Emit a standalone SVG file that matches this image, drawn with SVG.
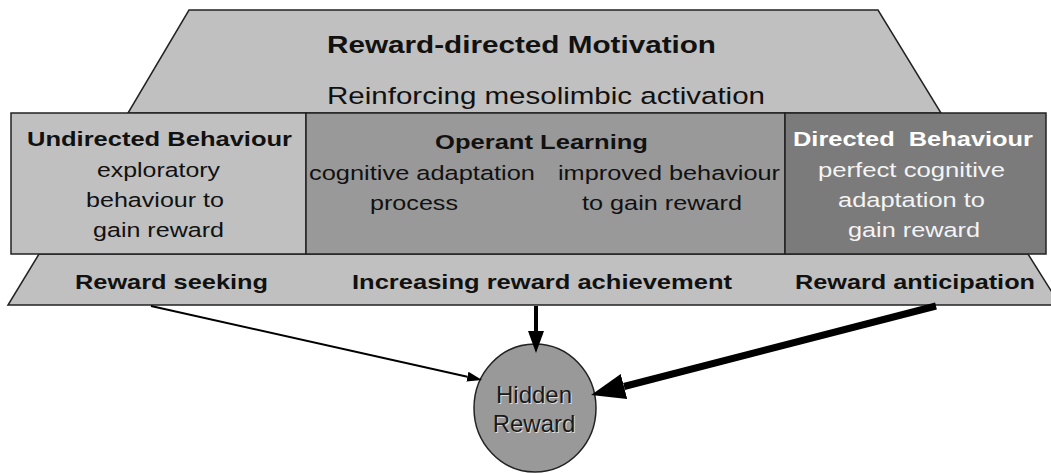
<svg xmlns="http://www.w3.org/2000/svg" width="1051" height="473" viewBox="0 0 1051 473">
  <style>
    .band { fill: #c0c0c0; stroke: #222; stroke-width: 1.5; stroke-linejoin: miter; }
    .box { stroke: #222; stroke-width: 1.5; }
    .t { font-family: "Liberation Sans", Arial, sans-serif; fill: #111; white-space: pre; }
    .b { font-weight: bold; }
    .w { fill: #f4f4f4; }
    .conn { stroke: #000; fill: none; }
  </style>
  <defs>
    <marker id="headS" markerUnits="userSpaceOnUse" markerWidth="16" markerHeight="12" refX="0" refY="6" orient="auto" viewBox="0 0 16 12">
      <path d="M0,1 L15,6 L0,11 z" fill="#000"/>
    </marker>
    <marker id="headM" markerUnits="userSpaceOnUse" markerWidth="23" markerHeight="18" refX="0" refY="9" orient="auto" viewBox="0 0 23 18">
      <path d="M0,1 L22,9 L0,17 z" fill="#000"/>
    </marker>
    <marker id="headL" markerUnits="userSpaceOnUse" markerWidth="35" markerHeight="28" refX="0" refY="14" orient="auto" viewBox="0 0 35 28">
      <path d="M0,1 L34,14 L0,27 z" fill="#000"/>
    </marker>
  </defs>

  <!-- upper band: motivation -->
  <g id="motivation">
    <polygon class="band" points="189,10 878,10 941,113 128,113"/>
    <text class="t b" x="327" y="53" font-size="23.5" textLength="389" lengthAdjust="spacingAndGlyphs">Reward-directed Motivation</text>
    <text class="t" x="327" y="104" font-size="24.5" textLength="438" lengthAdjust="spacingAndGlyphs">Reinforcing mesolimbic activation</text>
  </g>

  <!-- lower band: reward stages -->
  <g id="reward-stages">
    <polygon class="band" points="39,254 1028,254 1060,305 8,305"/>
    <text class="t b" x="75" y="289" font-size="21" textLength="193" lengthAdjust="spacingAndGlyphs">Reward seeking</text>
    <text class="t b" x="352" y="289" font-size="21" textLength="380" lengthAdjust="spacingAndGlyphs">Increasing reward achievement</text>
    <text class="t b" x="795" y="289" font-size="21" textLength="240" lengthAdjust="spacingAndGlyphs">Reward anticipation</text>
  </g>

  <!-- behaviour phases -->
  <g id="undirected-behaviour">
    <rect class="box" x="11" y="113" width="295" height="141" fill="#c0c0c0"/>
    <text class="t b" x="27" y="146" font-size="20" textLength="265" lengthAdjust="spacingAndGlyphs">Undirected Behaviour</text>
    <text class="t" x="97" y="177" font-size="20.5" textLength="123" lengthAdjust="spacingAndGlyphs">exploratory</text>
    <text class="t" x="86" y="207" font-size="20.5" textLength="138" lengthAdjust="spacingAndGlyphs">behaviour to</text>
    <text class="t" x="93" y="237" font-size="20.5" textLength="131" lengthAdjust="spacingAndGlyphs">gain reward</text>
  </g>

  <g id="operant-learning">
    <rect class="box" x="306" y="113" width="479" height="141" fill="#999999"/>
    <text class="t b" x="435" y="149" font-size="20" textLength="213" lengthAdjust="spacingAndGlyphs">Operant Learning</text>
    <text class="t" x="309" y="180" font-size="20.5" textLength="226" lengthAdjust="spacingAndGlyphs">cognitive adaptation</text>
    <text class="t" x="370" y="210" font-size="20.5" textLength="88" lengthAdjust="spacingAndGlyphs">process</text>
    <text class="t" x="558" y="180" font-size="20.5" textLength="222" lengthAdjust="spacingAndGlyphs">improved behaviour</text>
    <text class="t" x="582" y="210" font-size="20.5" textLength="160" lengthAdjust="spacingAndGlyphs">to gain reward</text>
  </g>

  <g id="directed-behaviour">
    <rect class="box" x="785" y="113" width="261" height="141" fill="#7b7b7b"/>
    <text class="t b w" x="793" y="146" font-size="20" textLength="240" lengthAdjust="spacingAndGlyphs" style="fill:#fff">Directed  Behaviour</text>
    <text class="t w" x="818" y="177" font-size="20.5" textLength="187" lengthAdjust="spacingAndGlyphs">perfect cognitive</text>
    <text class="t w" x="838" y="207" font-size="20.5" textLength="147" lengthAdjust="spacingAndGlyphs">adaptation to</text>
    <text class="t w" x="848" y="237" font-size="20.5" textLength="132" lengthAdjust="spacingAndGlyphs">gain reward</text>
  </g>

  <!-- goal node -->
  <g id="hidden-reward">
    <ellipse cx="535" cy="408" rx="61" ry="64" fill="#999999" stroke="#222" stroke-width="1.5"/>
    <text class="t" x="535" y="404" font-size="24" text-anchor="middle" style="fill:#dcdcdc">Hidden</text>
    <text class="t" x="535" y="433" font-size="24" text-anchor="middle" style="fill:#dcdcdc">Reward</text>
    <text class="t" x="534" y="403" font-size="24" text-anchor="middle" style="fill:#1a1a1a">Hidden</text>
    <text class="t" x="534" y="432" font-size="24" text-anchor="middle" style="fill:#1a1a1a">Reward</text>
  </g>

  <!-- connectors, weight grows with anticipation -->
  <g id="connectors">
    <line class="conn" x1="151" y1="306" x2="467.4" y2="376.7" stroke-width="2" marker-end="url(#headS)"/>
    <line class="conn" x1="536" y1="306" x2="536" y2="331" stroke-width="4" marker-end="url(#headM)"/>
    <line class="conn" x1="936" y1="306" x2="624" y2="386.5" stroke-width="7" marker-end="url(#headL)"/>
  </g>
</svg>
